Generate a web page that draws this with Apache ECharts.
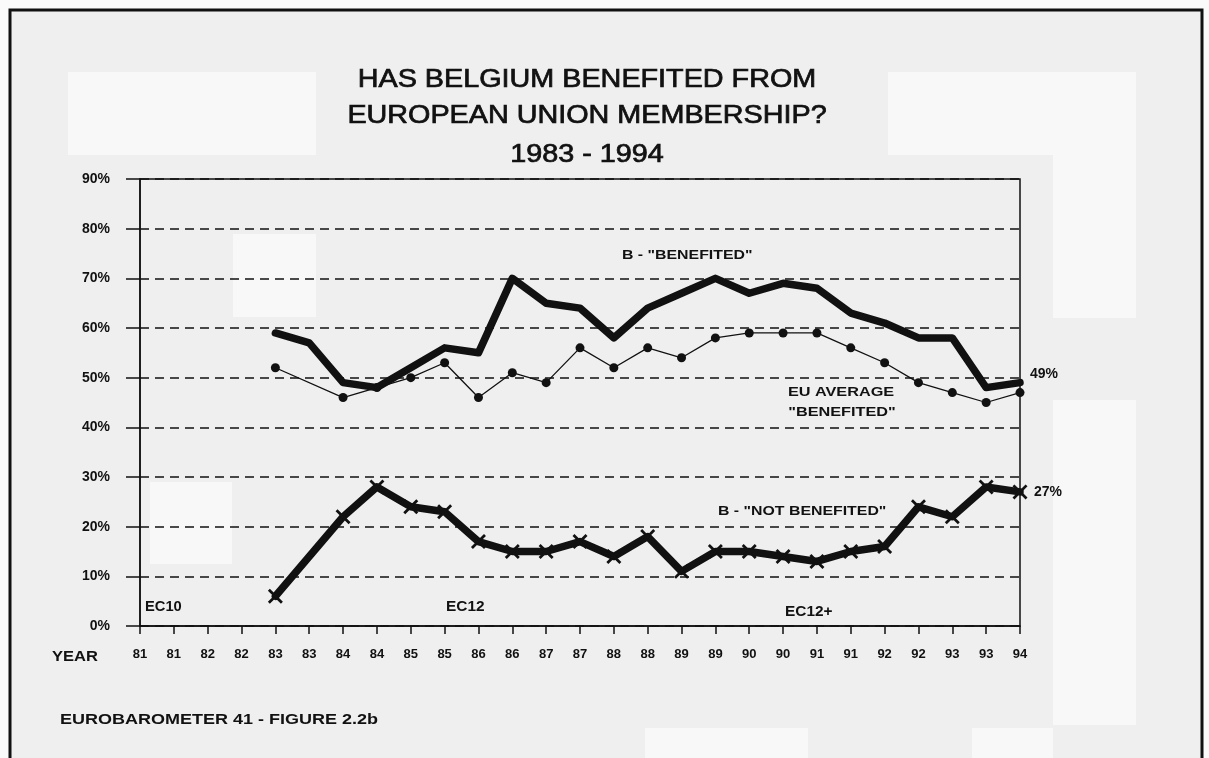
<!DOCTYPE html>
<html><head><meta charset="utf-8">
<script src="https://cdn.jsdelivr.net/npm/echarts@6/dist/echarts.min.js"></script>
<style>html,body{margin:0;padding:0;background:#fafafa}#c{width:1209px;height:758px}</style>
</head><body><div id="c"></div>
<script>
// ---- data ----
const years = ['81','81','82','82','83','83','84','84','85','85','86','86','87','87','88','88','89','89','90','90','91','91','92','92','93','93','94'];
const benefited    = [null,null,null,null,59,57,49,48,52,56,55,70,65,64,58,64,67,70,67,69,68,63,61,58,58,48,49];
const euAverage    = [null,null,null,null,52,null,46,48,50,53,46,51,49,56,52,56,54,58,59,59,59,56,53,49,47,45,47];
const notBenefited = [null,null,null,null,6,null,22,28,24,23,17,15,15,17,14,18,11,15,15,14,13,15,16,24,22,28,27];
const yMin = 0, yMax = 90, yStep = 10;
const titleLines = ['HAS BELGIUM BENEFITED FROM', 'EUROPEAN UNION MEMBERSHIP?', '1983 - 1994'];

const FONT = '"Liberation Sans", Arial, sans-serif';
const crossPath = 'path://M0,1.3L1.3,0L5,3.7L8.7,0L10,1.3L6.3,5L10,8.7L8.7,10L5,6.3L1.3,10L0,8.7L3.7,5Z';

function txt(text, x, y, size, opts) {
  opts = opts || {};
  const st = {
    text: text, x: 0, y: 0,
    font: (opts.weight || 'bold') + ' ' + size + 'px ' + FONT,
    fill: '#111', textAlign: opts.align || 'left', textVerticalAlign: 'middle'
  };
  if (opts.stroke) { st.stroke = '#111'; st.lineWidth = opts.stroke; }
  return { type: 'text', x: x, y: y, scaleX: opts.sx || 1.2, z: 50, style: st };
}

const chart = echarts.init(document.getElementById('c'));
const option = {
  backgroundColor: '#fafafa',
  animation: false,
  grid: { left: 140, right: 189, top: 179, bottom: 132, show: true, borderColor: '#111', borderWidth: 1.5, backgroundColor: 'transparent' },
  xAxis: {
    type: 'category', data: years, boundaryGap: false,
    axisLine: { lineStyle: { color: '#111', width: 1.5 } },
    axisTick: { show: true, length: 8, interval: 0, lineStyle: { color: '#111', width: 1.5 } },
    axisLabel: { interval: 0, margin: 22, color: '#111', fontFamily: FONT, fontWeight: 'bold', fontSize: 13 }
  },
  yAxis: {
    type: 'value', min: yMin, max: yMax, interval: yStep,
    axisLine: { show: true, lineStyle: { color: '#111', width: 1.5 } },
    axisTick: { show: true, length: 14, lineStyle: { color: '#111', width: 1.5 } },
    axisLabel: { formatter: '{value}%', margin: 30, color: '#111', fontFamily: FONT, fontWeight: 'bold', fontSize: 14 },
    splitLine: { show: true, lineStyle: { color: '#111', width: 1.5, type: [9, 6] } }
  },
  series: [
    {
      name: 'EU average benefited', type: 'line', data: euAverage, connectNulls: true,
      symbol: 'circle', symbolSize: 9, showSymbol: true,
      itemStyle: { color: '#111' },
      lineStyle: { color: '#111', width: 1.3 }, z: 3
    },
    {
      name: 'B benefited', type: 'line', data: benefited, connectNulls: true,
      symbol: 'circle', symbolSize: 6, showSymbol: false,
      lineStyle: { color: '#111', width: 7.5, join: 'round', cap: 'round' }, z: 4,
      endLabel: { show: true, formatter: p => p.value + '%', distance: 10, offset: [0, -8],
        color: '#111', fontFamily: FONT, fontWeight: 'bold', fontSize: 14 }
    },
    {
      name: 'B not benefited', type: 'line', data: notBenefited, connectNulls: true,
      symbol: crossPath, symbolSize: 15, showSymbol: true,
      itemStyle: { color: '#111' },
      lineStyle: { color: '#111', width: 7.5, join: 'round', cap: 'round' }, z: 4,
      endLabel: { show: true, formatter: p => p.value + '%', distance: 14,
        color: '#111', fontFamily: FONT, fontWeight: 'bold', fontSize: 14 }
    }
  ],
  graphic: [
    { type: 'rect', z: -20, shape: { x: 10, y: 10, width: 1192, height: 760 },
      style: { fill: '#efefef', stroke: '#111', lineWidth: 3 } },
    { type: 'rect', z: -15, shape: { x: 68, y: 72, width: 248, height: 83 }, style: { fill: '#f8f8f8' } },
    { type: 'rect', z: -15, shape: { x: 888, y: 72, width: 248, height: 83 }, style: { fill: '#f8f8f8' } },
    { type: 'rect', z: -15, shape: { x: 233, y: 234, width: 83, height: 83 }, style: { fill: '#f8f8f8' } },
    { type: 'rect', z: -15, shape: { x: 1053, y: 155, width: 83, height: 163 }, style: { fill: '#f8f8f8' } },
    { type: 'rect', z: -15, shape: { x: 150, y: 482, width: 82, height: 82 }, style: { fill: '#f8f8f8' } },
    { type: 'rect', z: -15, shape: { x: 1053, y: 400, width: 83, height: 325 }, style: { fill: '#f8f8f8' } },
    { type: 'rect', z: -15, shape: { x: 645, y: 728, width: 163, height: 30 }, style: { fill: '#f8f8f8' } },
    { type: 'rect', z: -15, shape: { x: 972, y: 728, width: 81, height: 30 }, style: { fill: '#f8f8f8' } },
    txt(titleLines[0], 587, 80, 25, { weight: 'normal', align: 'center', sx: 1.15, stroke: 0.7 }),
    txt(titleLines[1], 587, 116, 25, { weight: 'normal', align: 'center', sx: 1.15, stroke: 0.7 }),
    txt(titleLines[2], 587, 155, 25, { weight: 'normal', align: 'center', sx: 1.15, stroke: 0.7 }),
    txt('B - "BENEFITED"', 622, 255, 13, { sx: 1.22 }),
    txt('EU AVERAGE', 841, 392, 13, { align: 'center', sx: 1.25 }),
    txt('"BENEFITED"', 842, 412, 13, { align: 'center', sx: 1.25 }),
    txt('B - "NOT BENEFITED"', 718, 511, 13, { sx: 1.22 }),
    txt('EC10', 145, 607, 14, { sx: 1.05 }),
    txt('EC12', 446, 607, 14, { sx: 1.1 }),
    txt('EC12+', 785, 612, 14, { sx: 1.1 }),
    txt('YEAR', 52, 657, 15, { sx: 1.1 }),
    txt('EUROBAROMETER 41 - FIGURE 2.2b', 60, 720, 15, { sx: 1.2 })
  ]
};
chart.setOption(option);
</script></body></html>
